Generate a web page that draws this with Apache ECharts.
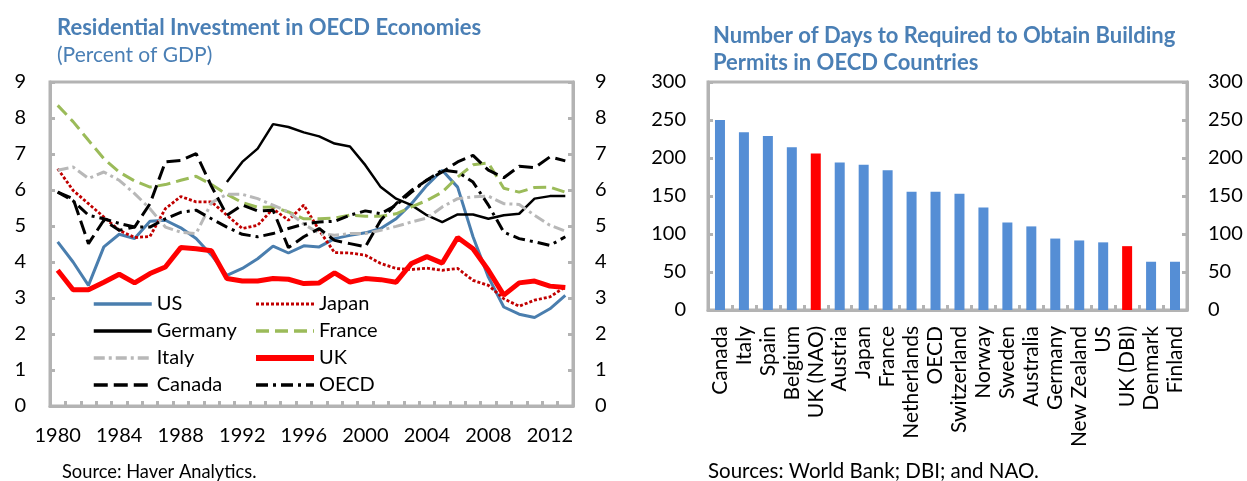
<!DOCTYPE html>
<html>
<head>
<meta charset="utf-8">
<script src="https://cdn.jsdelivr.net/npm/echarts@6.0.0/dist/echarts.min.js"></script>
<style>
  html, body { margin: 0; padding: 0; background: #fff; }
  #chart { width: 1247px; height: 481px; }
</style>
</head>
<body>
<div id="chart"></div>
<script>
// left panel: residential investment, percent of GDP
var years = [];
for (var y = 1980; y <= 2013; y++) years.push(String(y));

var us = [4.56, 4.0, 3.35, 4.42, 4.77, 4.65, 5.13, 5.16, 4.95, 4.65,
          4.19, 3.63, 3.82, 4.09, 4.44, 4.25, 4.45, 4.42, 4.65, 4.74,
          4.81, 4.93, 5.2, 5.62, 6.13, 6.55, 6.08, 4.7, 3.58, 2.75,
          2.55, 2.46, 2.7, 3.07];
var japan = [6.59, 5.99, 5.62, 5.25, 4.88, 4.68, 4.71, 5.48, 5.82, 5.67,
             5.67, 5.3, 4.93, 5.02, 5.48, 5.16, 5.58, 4.88, 4.26, 4.25,
             4.19, 3.96, 3.82, 3.79, 3.83, 3.77, 3.82, 3.49, 3.35, 2.98,
             2.77, 2.94, 3.03, 3.31];
var germany = [null, null, null, null, null, null, null, null, null, null,
               null, 6.22, 6.78, 7.15, 7.83, 7.75, 7.6, 7.49, 7.29, 7.21,
               6.69, 6.08, 5.76, 5.58, 5.3, 5.11, 5.32, 5.32, 5.2, 5.3,
               5.34, 5.76, 5.83, 5.83];
var france = [8.35, 7.9, 7.38, 6.87, 6.5, 6.25, 6.08, 6.15, 6.27, 6.38,
              6.15, 5.88, 5.65, 5.52, 5.53, 5.39, 5.2, 5.2, 5.22, 5.3,
              5.27, 5.27, 5.34, 5.53, 5.71, 5.94, 6.36, 6.7, 6.75, 6.05,
              5.94, 6.07, 6.08, 5.94];
var italy = [6.55, 6.64, 6.32, 6.5, 6.27, 5.9, 5.48, 4.97, 4.83, 4.79,
             5.65, 5.88, 5.88, 5.76, 5.58, 5.39, 5.05, 4.8, 4.74, 4.79,
             4.79, 4.88, 4.99, 5.11, 5.22, 5.53, 5.76, 5.81, 5.83, 5.62,
             5.6, 5.3, 5.02, 4.86];
var uk = [3.77, 3.23, 3.23, 3.44, 3.66, 3.42, 3.68, 3.86, 4.4, 4.37,
          4.31, 3.54, 3.47, 3.47, 3.54, 3.52, 3.4, 3.42, 3.7, 3.44,
          3.54, 3.51, 3.44, 3.96, 4.15, 3.97, 4.68, 4.37, 3.77, 3.08,
          3.42, 3.47, 3.33, 3.29];
var canada = [5.94, 5.76, 4.51, 5.16, 4.88, 4.97, 5.62, 6.78, 6.82, 7.01,
              6.1, 5.3, 5.58, 5.42, 5.44, 4.4, 4.7, 4.93, 4.6, 4.51,
              4.42, 5.16, 5.62, 5.99, 6.27, 6.5, 6.78, 6.96, 6.55, 6.34,
              6.66, 6.62, 6.92, 6.81];
var oecd = [5.94, 5.7, 5.3, 5.2, 5.07, 4.97, 4.97, 5.2, 5.38, 5.44,
            5.2, 4.97, 4.77, 4.7, 4.79, 4.93, 5.05, 5.11, 5.13, 5.3,
            5.42, 5.34, 5.58, 5.94, 6.28, 6.55, 6.5, 6.22, 5.58, 4.83,
            4.65, 4.56, 4.46, 4.7];

// right panel: days to obtain building permits
var countries = ["Canada", "Italy", "Spain", "Belgium", "UK (NAO)", "Austria", "Japan",
                 "France", "Netherlands", "OECD", "Switzerland", "Norway", "Sweden",
                 "Australia", "Germany", "New Zealand", "US", "UK (DBI)", "Denmark", "Finland"];
var days = [250, 234, 229, 214, 206, 194, 191, 184, 155.5, 155.5, 153, 135, 115,
            110, 94, 91.5, 89, 84, 63.5, 63.5];
var highlighted = ["UK (NAO)", "UK (DBI)"];

var FONT = "Lato";
var GREY = "#b3b3b3";
var TITLE_BLUE = "#4a7fb5";

function valueAxis(gridIndex, pos, max, interval, margin) {
    return {
        type: "value",
        gridIndex: gridIndex,
        position: pos,
        min: 0,
        max: max,
        interval: interval,
        axisLine: { show: true, lineStyle: { color: GREY, width: 3 } },
        axisTick: { show: true, inside: true, length: 5, lineStyle: { color: GREY, width: 3 } },
        axisLabel: { color: "#000", fontFamily: FONT, fontSize: 20, margin: margin },
        splitLine: { show: false }
    };
}

function line(name, data, color, width, type) {
    return {
        name: name,
        type: "line",
        data: data,
        xAxisIndex: 0,
        yAxisIndex: 0,
        symbol: "none",
        connectNulls: false,
        lineStyle: { color: color, width: width, type: type },
        itemStyle: { color: color }
    };
}

// legend keys are drawn a little heavier than the plotted lines
function key(name, width) {
    return { name: name, lineStyle: { width: width } };
}

var legendBase = {
    orient: "vertical",
    padding: 0,
    itemWidth: 58,
    itemHeight: 20,
    itemGap: 7,
    selectedMode: false,
    itemStyle: { opacity: 0 },
    textStyle: { color: "#000", fontFamily: FONT, fontSize: 20, lineHeight: 20 }
};

function titleText(text, left, top, size, weight, color) {
    return {
        text: text,
        left: left,
        top: top,
        padding: 0,
        textStyle: { color: color, fontFamily: FONT, fontWeight: weight, fontSize: size, lineHeight: 27 }
    };
}

var option = {
    animation: false,
    title: [
        titleText("Residential Investment in OECD Economies", 57, 14, 22, "bold", TITLE_BLUE),
        titleText("(Percent of GDP)", 57, 42, 21, "normal", TITLE_BLUE),
        titleText("Number of Days to Required to Obtain Building\nPermits in OECD Countries", 713, 22, 22, "bold", TITLE_BLUE),
        titleText("Source: Haver Analytics.", 62, 459, 18.3, "normal", "#000"),
        titleText("Sources: World Bank; DBI; and NAO.", 708, 458, 20.5, "normal", "#000")
    ],
    legend: [
        Object.assign({}, legendBase, {
            left: 92, top: 294,
            data: [key("US", 3.5), key("Germany", 3.5), key("Italy", 3.5), key("Canada", 3.5)]
        }),
        Object.assign({}, legendBase, {
            left: 253, top: 294,
            data: [key("Japan", 3), key("France", 3.5), key("UK", 6), key("OECD", 3.5)]
        })
    ],
    grid: [
        { left: 50, right: 674, top: 82, bottom: 75, show: true, borderColor: GREY, borderWidth: 3 },
        { left: 708, right: 60, top: 82, bottom: 171, show: true, borderColor: GREY, borderWidth: 3 }
    ],
    xAxis: [
        {
            type: "category",
            gridIndex: 0,
            data: years,
            boundaryGap: true,
            axisLine: { lineStyle: { color: GREY, width: 3 } },
            axisTick: { show: true, inside: true, length: 5, interval: 0, lineStyle: { color: GREY, width: 3 } },
            axisLabel: { color: "#000", fontFamily: FONT, fontSize: 20, interval: 3, margin: 20 }
        },
        {
            type: "category",
            gridIndex: 1,
            data: countries,
            axisLine: { lineStyle: { color: GREY, width: 3 } },
            axisTick: { show: true, inside: true, length: 5, interval: 0, lineStyle: { color: GREY, width: 3 } },
            axisLabel: { color: "#000", fontFamily: FONT, fontSize: 21, interval: 0, rotate: 90, margin: 16 }
        }
    ],
    yAxis: [
        valueAxis(0, "left", 9, 1, 24),
        valueAxis(0, "right", 9, 1, 22),
        valueAxis(1, "left", 300, 50, 22),
        valueAxis(1, "right", 300, 50, 21)
    ],
    series: [
        line("US", us, "#4a7eae", 3, "solid"),
        line("Japan", japan, "#c00000", 2.8, [3, 2]),
        line("Germany", germany, "#000000", 2.5, "solid"),
        line("France", france, "#9bbb59", 3, [13, 6]),
        line("Italy", italy, "#b8b8b8", 3, [11, 4, 3, 4]),
        line("UK", uk, "#ff0000", 5, "solid"),
        line("Canada", canada, "#000000", 3, [14, 6]),
        line("OECD", oecd, "#000000", 3, [12, 5, 3, 5]),
        {
            name: "Days",
            type: "bar",
            xAxisIndex: 1,
            yAxisIndex: 2,
            barWidth: 10,
            data: days.map(function (v, i) {
                return {
                    value: v,
                    itemStyle: { color: highlighted.indexOf(countries[i]) >= 0 ? "#ff0000" : "#558ed5" }
                };
            })
        }
    ]
};

echarts.init(document.getElementById("chart")).setOption(option);
</script>
</body>
</html>
